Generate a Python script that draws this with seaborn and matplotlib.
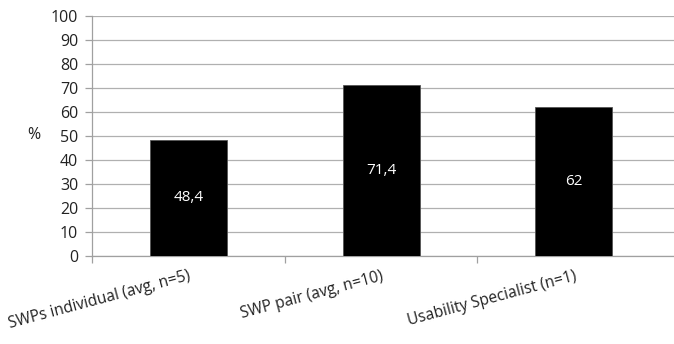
import matplotlib
matplotlib.use("Agg")
import matplotlib.pyplot as plt
import seaborn as sns
import pandas as pd

categories = ["SWPs individual (avg, n=5)", "SWP pair (avg, n=10)", "Usability Specialist (n=1)"]
values = [48.4, 71.4, 62]
value_labels = ["48,4", "71,4", "62"]
y_ticks = [0, 10, 20, 30, 40, 50, 60, 70, 80, 90, 100]

sns.set_theme(style="white")
plt.rcParams["font.family"] = ["Open Sans", "DejaVu Sans"]

df = pd.DataFrame({"group": categories, "score": values})

fig = plt.figure(figsize=(6.74, 3.44), dpi=100)
ax = fig.add_axes([0.1365, 0.2558, 0.8635, 0.6977])

sns.barplot(data=df, x="group", y="score", color="black", width=0.4,
            edgecolor="#555555", linewidth=0.6, saturation=1, ax=ax, zorder=3)

for patch, lab in zip(ax.patches, value_labels):
    cx = patch.get_x() + patch.get_width() / 2
    cy = patch.get_height() / 2
    ax.text(cx, cy, lab, color="white", ha="center", va="center", fontsize=11)

ax.set_xlim(-0.5, 2.52)
ax.set_ylim(0, 100)
ax.set_yticks(y_ticks)
ax.yaxis.grid(True, color="#b0b0b0", linewidth=0.9, zorder=0)
ax.set_axisbelow(True)

for side in ["top", "right"]:
    ax.spines[side].set_visible(False)
for side in ["left", "bottom"]:
    ax.spines[side].set_color("#a0a0a0")
    ax.spines[side].set_linewidth(0.9)

ax.tick_params(axis="y", which="major", left=True, length=5, width=0.9,
               color="#a0a0a0", labelsize=11.5, pad=5, labelcolor="#222222")
ax.set_xticks([0, 1, 2])
ax.set_xticklabels(categories, rotation=15, ha="right", rotation_mode="anchor",
                   fontsize=11.2, color="#222222")
ax.tick_params(axis="x", which="major", length=0, pad=9)
ax.set_xticks([-0.5, 0.5, 1.5], minor=True)
ax.tick_params(axis="x", which="minor", bottom=True, length=5, width=0.9, color="#a0a0a0")

ax.set_xlabel("")
ax.set_ylabel("%", rotation=0, fontsize=11.5, color="#222222", labelpad=0)
ax.yaxis.set_label_coords(-0.1, 0.47)

fig.savefig("out.png", dpi=100)
